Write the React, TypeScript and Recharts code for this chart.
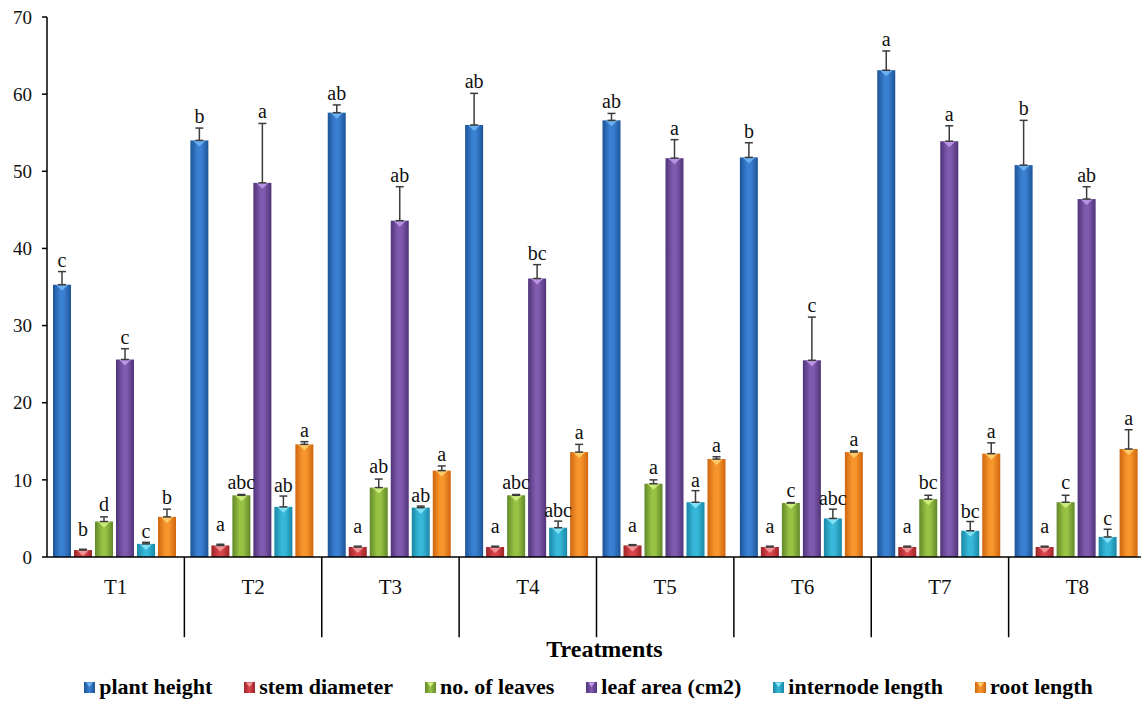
import React from "react";
import {
  BarChart,
  Bar,
  XAxis,
  YAxis,
  ErrorBar,
  LabelList,
  Legend,
  ReferenceLine,
  Label,
} from "recharts";

const treatments = ["T1", "T2", "T3", "T4", "T5", "T6", "T7", "T8"];

const plantHeight = [35.3, 54.0, 57.6, 56.0, 56.6, 51.8, 63.1, 50.8];
const plantHeightErr = [1.7, 1.6, 1.0, 4.1, 0.9, 1.9, 2.5, 5.8];
const plantHeightSig = ["c", "b", "ab", "ab", "ab", "b", "a", "b"];

const stemDiameter = [0.9, 1.5, 1.3, 1.3, 1.5, 1.3, 1.3, 1.3];
const stemDiameterErr = [0.1, 0.15, 0.1, 0.1, 0.1, 0.1, 0.1, 0.1];
const stemDiameterSig = ["b", "a", "a", "a", "a", "a", "a", "a"];

const leaves = [4.6, 8.0, 9.0, 8.0, 9.5, 7.0, 7.5, 7.1];
const leavesErr = [0.6, 0.1, 1.1, 0.1, 0.5, 0.05, 0.5, 0.9];
const leavesSig = ["d", "abc", "ab", "abc", "a", "c", "bc", "c"];

const leafArea = [25.6, 48.5, 43.6, 36.1, 51.7, 25.5, 53.9, 46.4];
const leafAreaErr = [1.4, 7.7, 4.4, 1.8, 2.4, 5.6, 2.0, 1.6];
const leafAreaSig = ["c", "a", "ab", "bc", "a", "c", "a", "ab"];

const internode = [1.7, 6.5, 6.4, 3.8, 7.1, 5.0, 3.4, 2.6];
const internodeErr = [0.2, 1.4, 0.2, 0.85, 1.5, 1.2, 1.2, 1.0];
const internodeSig = ["c", "ab", "ab", "abc", "a", "abc", "bc", "c"];

const rootLength = [5.2, 14.6, 11.2, 13.6, 12.7, 13.6, 13.4, 14.0];
const rootLengthErr = [1.0, 0.35, 0.6, 1.0, 0.3, 0.15, 1.4, 2.5];
const rootLengthSig = ["b", "a", "a", "a", "a", "a", "a", "a"];

const yTicks = [0, 10, 20, 30, 40, 50, 60, 70];
const separators = ["T2", "T3", "T4", "T5", "T6", "T7", "T8"];
const SEP_DEPTH = -10.4;

const series = [
  { key: "ph", name: "plant height", values: plantHeight, errs: plantHeightErr, sig: plantHeightSig, dark: "#1d5497", mid: "#3a80d2", light: "#6fb4f5", labelOffset: 5 },
  { key: "sd", name: "stem diameter", values: stemDiameter, errs: stemDiameterErr, sig: stemDiameterSig, dark: "#9c2327", mid: "#d8464b", light: "#f49aa0", labelOffset: 13 },
  { key: "nl", name: "no. of leaves", values: leaves, errs: leavesErr, sig: leavesSig, dark: "#62882a", mid: "#97c243", light: "#d0ef82", labelOffset: 6 },
  { key: "la", name: "leaf area (cm2)", values: leafArea, errs: leafAreaErr, sig: leafAreaSig, dark: "#4f3378", mid: "#805aae", light: "#c09ae8", labelOffset: 5 },
  { key: "il", name: "internode length", values: internode, errs: internodeErr, sig: internodeSig, dark: "#1a87a6", mid: "#38b8d8", light: "#8ae6fa", labelOffset: 4 },
  { key: "rl", name: "root length", values: rootLength, errs: rootLengthErr, sig: rootLengthSig, dark: "#d0650f", mid: "#f7962c", light: "#ffd070", labelOffset: 5 },
];

const data = treatments.map((t, i) => {
  const row: any = { name: t };
  series.forEach((s) => {
    row[s.key] = s.values[i];
    row[s.key + "Err"] = [0, s.errs[i]];
    row[s.key + "Gap"] = s.errs[i];
    row[s.key + "Sig"] = s.sig[i];
  });
  return row;
});

const makeShape = (s: any) => (props: any) => {
  const { x, y, width, height } = props;
  if (!height || height <= 0) return <g />;
  const th = Math.min(6, height);
  return (
    <g>
      <rect x={x} y={y} width={width} height={height} fill={`url(#grad-${s.key})`} />
      <polygon
        points={`${x + width * 0.18},${y + 0.5} ${x + width * 0.82},${y + 0.5} ${x + width / 2},${y + th}`}
        fill={s.light}
        opacity={0.9}
      />
    </g>
  );
};

const LegendIcon = ({ s }: any) => (
  <svg width={11} height={11} style={{ marginRight: 4 }}>
    <defs>
      <linearGradient id={`lg-${s.key}`} x1="0" y1="0" x2="1" y2="0">
        <stop offset="0%" stopColor={s.dark} />
        <stop offset="50%" stopColor={s.mid} />
        <stop offset="100%" stopColor={s.dark} />
      </linearGradient>
    </defs>
    <rect x={0} y={0} width={11} height={11} fill={`url(#lg-${s.key})`} />
    <polygon points="2,0.5 9,0.5 5.5,5" fill={s.light} />
  </svg>
);

const renderLegend = () => (
  <div
    style={{
      display: "flex",
      justifyContent: "center",
      alignItems: "center",
      paddingLeft: 36,
      fontFamily: "Liberation Serif",
      fontWeight: "bold",
      fontSize: 22,
      color: "#000",
    }}
  >
    {series.map((s) => (
      <div key={s.key} style={{ display: "flex", alignItems: "center", margin: "0 16px" }}>
        <LegendIcon s={s} />
        <span style={{ fontFamily: "Liberation Serif" }}>{s.name}</span>
      </div>
    ))}
  </div>
);

export default function App() {
  return (
    <div style={{ position: "absolute", left: 0, top: 0, width: 1141, height: 704, overflow: "hidden" }}>
      <BarChart
        width={1146}
        height={704}
        data={data}
        margin={{ top: 17, right: 0, left: 0, bottom: 47 }}
        barCategoryGap={6}
        barGap={3}
      >
        <defs>
          {series.map((s) => (
            <linearGradient key={s.key} id={`grad-${s.key}`} x1="0" y1="0" x2="1" y2="0">
              <stop offset="0%" stopColor={s.dark} />
              <stop offset="40%" stopColor={s.mid} />
              <stop offset="60%" stopColor={s.mid} />
              <stop offset="100%" stopColor={s.dark} />
            </linearGradient>
          ))}
        </defs>
        <XAxis
          dataKey="name"
          height={100}
          tickLine={false}
          tickSize={0}
          tickMargin={22}
          axisLine={{ stroke: "#000", strokeWidth: 1.5 }}
          tick={{ fontSize: 21, fill: "#111", fontFamily: "Liberation Serif" }}
        >
          <Label
            value="Treatments"
            position="insideBottom"
            offset={0}
            dx={8}
            fontSize={24}
            fontWeight="bold"
            fill="#000"
            fontFamily="Liberation Serif"
          />
        </XAxis>
        <YAxis
          width={47}
          domain={[0, 70]}
          ticks={yTicks}
          interval={0}
          tickSize={5}
          tickMargin={10}
          axisLine={{ stroke: "#000", strokeWidth: 1.5 }}
          tickLine={{ stroke: "#000", strokeWidth: 1.5 }}
          tick={{ fontSize: 19, fill: "#111", fontFamily: "Liberation Serif" }}
        />
        {separators.map((b) => (
          <ReferenceLine
            key={b}
            ifOverflow="visible"
            position="start"
            segment={[
              { x: b, y: 0 },
              { x: b, y: SEP_DEPTH },
            ]}
            stroke="#000"
            strokeWidth={1.5}
          />
        ))}
        {series.flatMap((s) => [
          <Bar
            key={s.key}
            dataKey={s.key}
            name={s.name}
            stackId={s.key}
            fill={s.mid}
            shape={makeShape(s)}
            isAnimationActive={false}
          >
            <ErrorBar dataKey={s.key + "Err"} width={4} stroke="#3c3c3c" strokeWidth={1.5} direction="y" />
          </Bar>,
          <Bar
            key={s.key + "Gap"}
            dataKey={s.key + "Gap"}
            stackId={s.key}
            fill="transparent"
            legendType="none"
            isAnimationActive={false}
          >
            <LabelList
              dataKey={s.key + "Sig"}
              position="top"
              offset={s.labelOffset}
              fontSize={20}
              fill="#111"
              fontFamily="Liberation Serif"
            />
          </Bar>,
        ])}
        <Legend
          layout="horizontal"
          verticalAlign="middle"
          align="center"
          wrapperStyle={{ top: 674, left: 0, width: 1141 }}
          content={renderLegend}
        />
      </BarChart>
    </div>
  );
}
